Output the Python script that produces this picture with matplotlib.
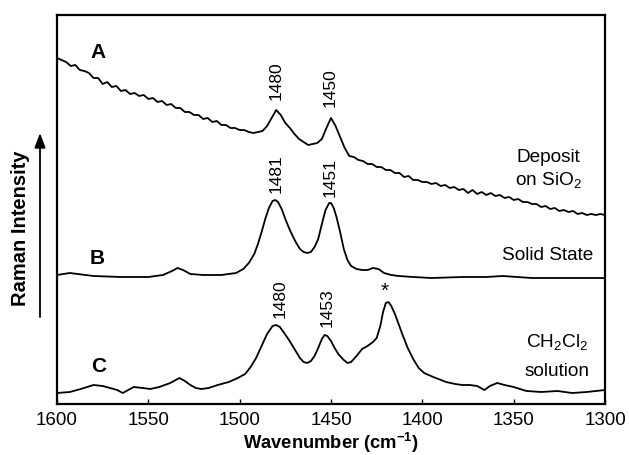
import matplotlib
matplotlib.use("Agg")
import matplotlib.pyplot as plt

plt.rcParams['font.family'] = ['Liberation Sans', 'DejaVu Sans']

# Spectrum A: deposit on SiO2 (noisy), sampled every 2.5 cm-1 from 1600 down to 1300
wn_a = [1600 - 2.5 * i for i in range(121)]
int_a = [346, 344, 342, 338, 339, 334, 333, 331, 326, 326,
         320, 322, 317, 318, 313, 314, 310, 311, 308, 309,
         305, 306, 302, 303, 299, 300, 296, 296, 292, 292,
         289, 289, 285, 286, 282, 283, 279, 279, 276, 276,
         274, 274, 272, 271, 272, 273, 278, 286, 294, 289,
         281, 276, 270, 265, 262, 259, 260, 261, 265, 276,
         286, 278, 267, 256, 248, 247, 244, 243, 240, 240,
         237, 237, 234, 234, 231, 231, 227, 228, 224, 224,
         222, 222, 220, 221, 218, 219, 216, 217, 214, 215,
         211, 214, 210, 212, 209, 211, 208, 209, 206, 207,
         204, 205, 202, 202, 200, 200, 197, 198, 195, 196,
         193, 194, 192, 193, 190, 191, 189, 190, 189, 190,
         189]

# Spectrum B: solid state
wn_b = [1600, 1593, 1580, 1565, 1550, 1542, 1537, 1534, 1531, 1527, 1520,
        1510, 1502, 1498, 1495, 1492, 1490, 1488, 1486, 1484, 1482, 1480.5,
        1479, 1477, 1475, 1473, 1471, 1469, 1467, 1465, 1463, 1461, 1459,
        1457, 1455, 1453, 1451, 1450, 1448.5, 1447, 1445, 1443, 1441, 1439,
        1436, 1433, 1430, 1427, 1424, 1421, 1417, 1413, 1405, 1395, 1378,
        1365, 1356, 1348, 1340, 1320, 1300]
int_b = [129, 131, 128, 127, 127, 129, 133, 136, 134, 130, 129,
         129, 131, 135, 141, 150, 160, 172, 185, 196, 203, 204,
         202, 195, 185, 176, 168, 161, 155, 152, 151, 152, 157,
         165, 180, 194, 201, 201, 196, 187, 172, 155, 144, 138,
         135, 134, 134, 136, 135, 131, 129, 128, 127, 126, 127,
         127, 128, 127, 126, 126, 126]

# Spectrum C: CH2Cl2 solution
wn_c = [1600, 1593, 1587, 1580, 1575, 1571, 1567, 1564, 1561, 1558, 1553,
        1549, 1544, 1538, 1535, 1533, 1530, 1527, 1524, 1521, 1517, 1512,
        1506, 1501, 1497, 1494, 1491, 1488, 1485, 1482, 1480, 1478, 1476,
        1473, 1470, 1467, 1465, 1463, 1461, 1459, 1457, 1455, 1453.5, 1452,
        1450, 1448, 1446, 1443, 1441, 1439, 1436, 1433, 1430, 1427, 1425,
        1423, 1421.5, 1420, 1418.5, 1417, 1415, 1413, 1411, 1408, 1405, 1402,
        1399, 1394, 1387, 1382, 1378, 1374, 1370, 1366, 1363, 1359, 1355,
        1350, 1343, 1335, 1326, 1318, 1310, 1300]
int_c = [11, 12, 15, 19, 18, 16, 14, 11, 14, 17, 16,
         15, 17, 21, 24, 26, 23, 19, 16, 15, 16, 19,
         22, 26, 30, 37, 46, 58, 70, 78, 79, 77, 72,
         64, 55, 46, 42, 41, 43, 48, 56, 65, 69, 68,
         63, 56, 50, 44, 41, 42, 48, 55, 58, 62, 66,
         78, 92, 101, 102, 98, 90, 80, 70, 56, 45, 36,
         31, 27, 22, 20, 19, 19, 18, 14, 18, 21, 19,
         17, 13, 12, 13, 11, 12, 14]

# peak labels: (wavenumber, height, text)
peak_labels = [(1480, 304, "1480"), (1450.5, 297, "1450"),
               (1480, 211, "1481"), (1450.5, 207, "1451"),
               (1478, 86, "1480"), (1452, 77, "1453")]

fig = plt.figure(figsize=(6.29, 4.55), dpi=100)
ax = fig.add_axes([57 / 629, 1 - 404 / 455, 548 / 629, 389 / 455])

for wn, inten in [(wn_a, int_a), (wn_b, int_b), (wn_c, int_c)]:
    ax.plot(wn, inten, color="black", lw=1.3)

ax.set_xlim(1600, 1300)
ax.set_ylim(0, 389)
ax.set_xticks([1600, 1550, 1500, 1450, 1400, 1350, 1300])
ax.set_yticks([])
ax.tick_params(axis="x", direction="in", length=3.5, width=1, pad=6, labelsize=13.5)
for sp in ax.spines.values():
    sp.set_linewidth(1.6)

ax.set_xlabel("Wavenumber (cm$^{\\mathregular{-1}}$)", fontsize=13.2,
              fontweight="bold", labelpad=1)

for x, y, t in peak_labels:
    ax.text(x, y, t, rotation=90, ha="center", va="bottom", fontsize=12.5)
ax.text(1420.5, 113, "*", ha="center", va="center", fontsize=15)

for x, y, t in [(1577.5, 352, "A"), (1578, 146, "B"), (1577, 37, "C")]:
    ax.text(x, y, t, ha="center", va="center", fontsize=15, fontweight="bold")

ax.text(1313.5, 246, "Deposit", ha="right", va="center", fontsize=13.7)
ax.text(1312.5, 223, "on SiO$_\\mathregular{2}$", ha="right", va="center", fontsize=13.7)
ax.text(1306.5, 149, "Solid State", ha="right", va="center", fontsize=13.7)
ax.text(1309, 61, "CH$_\\mathregular{2}$Cl$_\\mathregular{2}$", ha="right", va="center", fontsize=13.7)
ax.text(1308.5, 32, "solution", ha="right", va="center", fontsize=13.7)

fig.text(21 / 629, 1 - 228 / 455, "Raman Intensity", rotation=90, ha="center",
         va="center", fontsize=14.5, fontweight="bold")
fig.add_artist(matplotlib.patches.FancyArrowPatch(
    (40 / 629, 1 - 317 / 455), (40 / 629, 1 - 133 / 455),
    transform=fig.transFigure, arrowstyle="-|>,head_length=0.8,head_width=0.3",
    mutation_scale=11, color="black", lw=1.3, shrinkA=0, shrinkB=0))

fig.savefig("out.png", dpi=100)
